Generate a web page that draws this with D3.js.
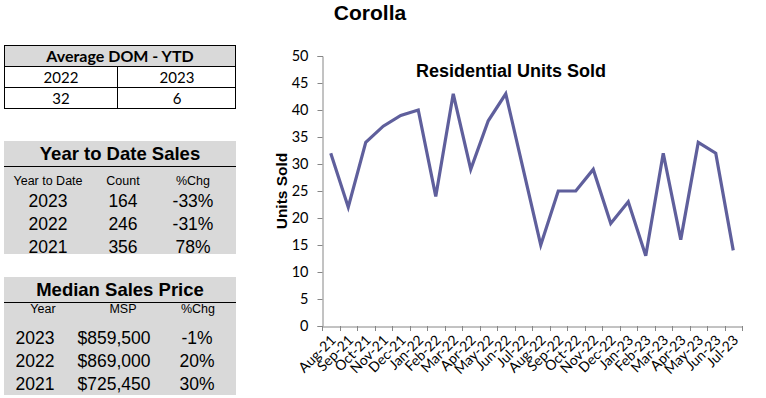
<!DOCTYPE html>
<html>
<head>
<meta charset="utf-8">
<script src="https://cdn.jsdelivr.net/npm/d3@7"></script>
<style>
  body { margin: 0; background: #fff; }
  svg { display: block; }
</style>
</head>
<body>
<div id="chart"></div>
<script>
// chart data
const months = ["Aug-21","Sep-21","Oct-21","Nov-21","Dec-21","Jan-22","Feb-22","Mar-22","Apr-22","May-22","Jun-22","Jul-22",
                "Aug-22","Sep-22","Oct-22","Nov-22","Dec-22","Jan-23","Feb-23","Mar-23","Apr-23","May-23","Jun-23","Jul-23"]
const unitsSold = [32,22,34,37,39,40,24,43,29,38,43,29,15,25,25,29,19,23,13,32,16,34,32,14]
const yTicks = [0,5,10,15,20,25,30,35,40,45,50]

// side tables
const domYears = ["2022","2023"]
const domValues = ["32","6"]
const ytdHeader = ["Year to Date","Count","%Chg"]
const ytdRows = [["2023","164","-33%"],["2022","246","-31%"],["2021","356","78%"]]
const mspHeader = ["Year","MSP","%Chg"]
const mspRows = [["2023","$859,500","-1%"],["2022","$869,000","20%"],["2021","$725,450","30%"]]

const svg = d3.select("#chart").append("svg")
    .attr("width", 766)
    .attr("height", 398)

const arial = "Arial, 'Liberation Sans', sans-serif"
const calibri = "Lato, 'Open Sans', sans-serif"

// page title
svg.append("text")
    .attr("x", 370).attr("y", 20)
    .attr("text-anchor", "middle")
    .style("font", "bold 21px " + arial)
    .text("Corolla")

// ---- Average DOM table
const dom = svg.append("g")
dom.append("rect").attr("x", 4.5).attr("y", 45.5).attr("width", 231).attr("height", 21)
    .attr("fill", "#d9d9d9")
dom.append("rect").attr("x", 4.5).attr("y", 45.5).attr("width", 231).attr("height", 63)
    .attr("fill", "none").attr("stroke", "#000")
dom.append("line").attr("x1", 4.5).attr("x2", 235.5).attr("y1", 66.5).attr("y2", 66.5).attr("stroke", "#000")
dom.append("line").attr("x1", 4.5).attr("x2", 235.5).attr("y1", 87.5).attr("y2", 87.5).attr("stroke", "#000")
dom.append("line").attr("x1", 117.5).attr("x2", 117.5).attr("y1", 66.5).attr("y2", 108.5).attr("stroke", "#000")
dom.append("text").attr("x", 120).attr("y", 62).attr("text-anchor", "middle")
    .style("font", "bold 16px " + calibri).text("Average DOM - YTD")
domYears.forEach((t, i) => {
    dom.append("text").attr("x", 61 + i * 116).attr("y", 82.5).attr("text-anchor", "middle")
        .style("font", "15px " + calibri).text(t)
})
domValues.forEach((t, i) => {
    dom.append("text").attr("x", 61 + i * 116).attr("y", 103.5).attr("text-anchor", "middle")
        .style("font", "15px " + calibri).text(t)
})

// ---- gray summary tables
function summaryTable(top, height, title, header, rows, colX, valX, headerY, rowY) {
    const g = svg.append("g")
    g.append("rect").attr("x", 4).attr("y", top).attr("width", 232).attr("height", height)
        .attr("fill", "#d9d9d9")
    g.append("line").attr("x1", 4).attr("x2", 236).attr("y1", top + 25.5).attr("y2", top + 25.5)
        .attr("stroke", "#000")
    g.append("text").attr("x", 120).attr("y", top + 19).attr("text-anchor", "middle")
        .style("font", "bold 18.5px " + arial).text(title)
    header.forEach((t, i) => {
        g.append("text").attr("x", colX[i]).attr("y", headerY).attr("text-anchor", "middle")
            .style("font", "12.5px " + arial).text(t)
    })
    rows.forEach((r, j) => {
        r.forEach((t, i) => {
            g.append("text").attr("x", valX[i]).attr("y", rowY[j]).attr("text-anchor", "middle")
                .style("font", "17.5px " + arial).text(t)
        })
    })
}

summaryTable(141, 113, "Year to Date Sales", ytdHeader, ytdRows,
    [48, 123, 193], [48, 123, 193], 185, [207, 230, 253])
summaryTable(277, 118, "Median Sales Price", mspHeader, mspRows,
    [43, 123, 198], [35, 114, 197], 313, [344, 367, 390])

// ---- line chart
const x = d3.scaleBand().domain(months).range([322, 742])
const y = d3.scaleLinear().domain([0, 50]).range([326, 56])

const axisColor = "#868686"

const yAxis = svg.append("g")
    .attr("transform", "translate(322.5,0)")
    .call(d3.axisLeft(y).tickValues(yTicks).tickSize(5).tickPadding(9))
yAxis.select(".domain").attr("stroke", axisColor)
yAxis.selectAll(".tick line").attr("stroke", axisColor)
yAxis.selectAll(".tick text").style("font", "14.5px " + calibri).attr("fill", "#000")

const xAxis = svg.append("g")
    .attr("transform", "translate(0,326.5)")
    .call(d3.axisBottom(x).tickSize(0).tickFormat(""))
xAxis.select(".domain").attr("stroke", axisColor)
xAxis.selectAll(".tick").remove()

// category boundary ticks
svg.append("g").selectAll("line")
    .data(months.concat(["end"]))
    .join("line")
    .attr("x1", (d, i) => Math.round(322 + i * x.bandwidth()) + 0.5)
    .attr("x2", (d, i) => Math.round(322 + i * x.bandwidth()) + 0.5)
    .attr("y1", 326).attr("y2", 331)
    .attr("stroke", axisColor)

svg.append("g").selectAll("text")
    .data(months)
    .join("text")
    .attr("transform", d => "translate(" + (x(d) + x.bandwidth() / 2 + 6) + ",341) rotate(-45)")
    .attr("text-anchor", "end")
    .style("font", "14px " + calibri)
    .text(d => d)

svg.append("text")
    .attr("transform", "translate(287,191) rotate(-90)")
    .attr("text-anchor", "middle")
    .style("font", "bold 15.5px " + arial)
    .text("Units Sold")

svg.append("text")
    .attr("x", 511).attr("y", 77)
    .attr("text-anchor", "middle")
    .style("font", "bold 18px " + arial)
    .text("Residential Units Sold")

const line = d3.line()
    .x((d, i) => x(months[i]) + x.bandwidth() / 2)
    .y(d => y(d))

svg.append("path")
    .datum(unitsSold)
    .attr("d", line)
    .attr("fill", "none")
    .attr("stroke", "#5f5f9c")
    .attr("stroke-width", 3.2)
    .attr("stroke-linejoin", "miter")
</script>
</body>
</html>
